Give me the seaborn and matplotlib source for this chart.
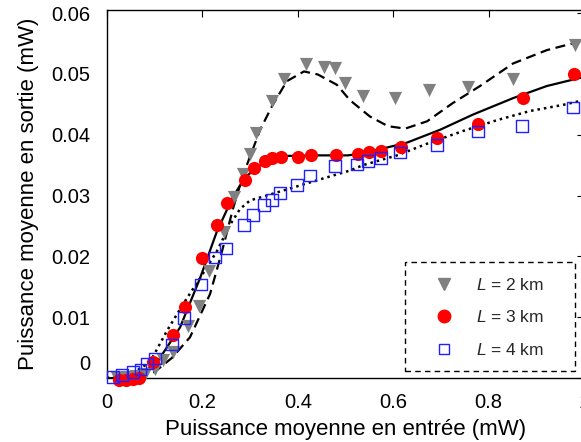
import matplotlib
matplotlib.use("Agg")
import matplotlib.pyplot as plt
import matplotlib.transforms as mtransforms
from matplotlib.lines import Line2D
from matplotlib.patches import Rectangle
import seaborn as sns

# ---- measured points ----
x_2km = [0.02, 0.04, 0.06, 0.08, 0.10, 0.117, 0.138, 0.17, 0.193, 0.214, 0.245, 0.266,
         0.285, 0.30, 0.312, 0.346, 0.371, 0.417, 0.455, 0.478, 0.499, 0.537, 0.604,
         0.675, 0.757, 0.851, 0.981]
y_2km = [0.0000, 0.0002, 0.0003, 0.0007, 0.0015, 0.0029, 0.0042, 0.0085, 0.0119, 0.0176,
         0.0240, 0.0298, 0.0335, 0.0368, 0.0403, 0.0455, 0.0491, 0.0517, 0.0512, 0.0509,
         0.0485, 0.0463, 0.0460, 0.0473, 0.0478, 0.0491, 0.0548]

x_3km = [0.025, 0.04, 0.055, 0.067, 0.097, 0.138, 0.164, 0.199, 0.23, 0.251, 0.289,
         0.308, 0.331, 0.346, 0.365, 0.400, 0.428, 0.48, 0.526, 0.549, 0.574, 0.616,
         0.692, 0.778, 0.872, 0.979]
y_3km = [-0.0004, -0.0004, -0.0002, 0.0000, 0.0026, 0.0070, 0.0117, 0.0197, 0.0252,
         0.0287, 0.0325, 0.0346, 0.0357, 0.0361, 0.0363, 0.0364, 0.0366, 0.0366, 0.0368,
         0.0371, 0.0374, 0.0379, 0.0395, 0.0417, 0.0460, 0.0499]

x_4km = [0.013, 0.031, 0.055, 0.07, 0.084, 0.10, 0.136, 0.161, 0.197, 0.226, 0.249,
         0.287, 0.306, 0.329, 0.346, 0.363, 0.398, 0.426, 0.478, 0.524, 0.547, 0.574,
         0.614, 0.692, 0.778, 0.87, 0.977]
y_4km = [0.0002, 0.0005, 0.0010, 0.0014, 0.0024, 0.0032, 0.0055, 0.0099, 0.0154, 0.0198,
         0.0213, 0.0252, 0.0268, 0.0284, 0.0293, 0.0304, 0.0317, 0.0333, 0.0349, 0.0351,
         0.0357, 0.0362, 0.0371, 0.0383, 0.0405, 0.0414, 0.0445]

# ---- fitted curves ----
fx_2km = [0.0, 0.05, 0.10, 0.136, 0.174, 0.216, 0.241, 0.264, 0.285, 0.321, 0.346, 0.377,
          0.413, 0.442, 0.482, 0.509, 0.551, 0.589, 0.625, 0.671, 0.725, 0.782, 0.851,
          0.922, 1.0]
fy_2km = [-0.0002, 0.0001, 0.0010, 0.0033, 0.0067, 0.0138, 0.0208, 0.0278, 0.0333,
          0.0408, 0.0447, 0.0488, 0.0504, 0.0499, 0.0482, 0.0457, 0.0430, 0.0414, 0.0410,
          0.0422, 0.0452, 0.0480, 0.0517, 0.0539, 0.0555]

fx_3km = [0.0, 0.05, 0.10, 0.153, 0.195, 0.23, 0.264, 0.290, 0.314, 0.340, 0.369, 0.44,
          0.505, 0.524, 0.572, 0.629, 0.698, 0.767, 0.851, 0.922, 1.0]
fy_3km = [-0.0001, 0.0003, 0.0020, 0.0083, 0.0164, 0.0240, 0.0298, 0.0330, 0.0346,
          0.0358, 0.0365, 0.0366, 0.0366, 0.0368, 0.0376, 0.0387, 0.0408, 0.0433, 0.0460,
          0.0480, 0.0495]

fx_4km = [0.0, 0.05, 0.09, 0.126, 0.16, 0.195, 0.23, 0.258, 0.279, 0.30, 0.335, 0.377,
          0.44, 0.509, 0.537, 0.608, 0.677, 0.746, 0.818, 0.887, 0.956, 1.0]
fy_4km = [0.0000, 0.0006, 0.0026, 0.0078, 0.0122, 0.0164, 0.0208, 0.0252, 0.0278,
          0.0292, 0.0300, 0.0310, 0.0325, 0.0341, 0.0350, 0.0366, 0.0387, 0.0406, 0.0424,
          0.0439, 0.0449, 0.0457]

x_ticks = [0, 0.2, 0.4, 0.6, 0.8, 1.0]
x_tick_labels = ["0", "0.2", "0.4", "0.6", "0.8", "1"]
y_ticks = [0, 0.01, 0.02, 0.03, 0.04, 0.05, 0.06]
y_tick_labels = ["0", "0.01", "0.02", "0.03", "0.04", "0.05", "0.06"]
legend_labels = ["$L$ = 2 km", "$L$ = 3 km", "$L$ = 4 km"]

sns.set_theme(style="white")
plt.rcParams["font.family"] = ["Liberation Sans", "DejaVu Sans"]
plt.rcParams["mathtext.fontset"] = "custom"
plt.rcParams["mathtext.it"] = "Liberation Sans:italic"
plt.rcParams["mathtext.rm"] = "Liberation Sans"

fig = plt.figure(figsize=(5.81, 4.42), dpi=100)
ax = fig.add_axes([107 / 581, 1 - 378 / 442, 477 / 581, 368 / 442])

# fit lines
sns.lineplot(x=fx_2km, y=fy_2km, ax=ax, color="black", lw=1.6, linestyle=(0, (4.5, 2.5)),
             sort=False, estimator=None)
sns.lineplot(x=fx_3km, y=fy_3km, ax=ax, color="black", lw=1.6, sort=False, estimator=None)
sns.lineplot(x=fx_4km, y=fy_4km, ax=ax, color="black", lw=1.8, linestyle=(0, (1, 1.6)),
             sort=False, estimator=None)

# measurement markers
sns.scatterplot(x=x_2km, y=y_2km, ax=ax, marker="v", s=90, color="#808080",
                edgecolor="#808080", linewidth=0, zorder=3, clip_on=False)
sns.scatterplot(x=x_3km, y=y_3km, ax=ax, marker="o", s=90, color="#ff0000",
                edgecolor="#ff0000", linewidth=0, zorder=4, clip_on=False)
sns.scatterplot(x=x_4km, y=y_4km, ax=ax, marker="s", s=70, facecolor="none",
                edgecolor="#2020ff", linewidth=1.0, zorder=5, clip_on=False)

ax.set_xlim(0, 1.0)
ax.set_ylim(0, 0.0605)
ax.set_xticks(x_ticks)
ax.set_xticklabels(x_tick_labels)
ax.set_yticks(y_ticks)
ax.set_yticklabels(y_tick_labels)
ax.tick_params(axis="both", direction="in", length=5, width=0.8, labelsize=14.5,
               top=True, right=True, colors="black")
ax.tick_params(axis="y", pad=12)
ax.tick_params(axis="x", pad=11)
for sp in ax.spines.values():
    sp.set_color("black")
    sp.set_linewidth(1.0)

# shift the "0" y label up like the reference
lbl0 = ax.get_yticklabels()[0]
lbl0.set_transform(lbl0.get_transform() + mtransforms.ScaledTranslation(0, 11 / 72, fig.dpi_scale_trans))

ax.set_xlabel("Puissance moyenne en entrée (mW)", fontsize=16, labelpad=5, color="black")
ax.set_ylabel("Puissance moyenne en sortie (mW)", fontsize=16, labelpad=9, color="black")

# legend frame (dashed) drawn as a rectangle in axes coordinates
ax.add_patch(Rectangle((298 / 477, 7 / 368), 170 / 477, 109 / 368, transform=ax.transAxes,
                       facecolor="white", edgecolor="black", linewidth=1.0,
                       linestyle=(0, (4, 3)), zorder=6))

handles = [
    Line2D([], [], marker="v", color="#808080", linestyle="none", markersize=9),
    Line2D([], [], marker="o", color="#ff0000", linestyle="none", markersize=9),
    Line2D([], [], marker="s", markerfacecolor="none", markeredgecolor="#2020ff",
           linestyle="none", markersize=7, markeredgewidth=1.0),
]
leg = ax.legend(handles, legend_labels, loc="upper left",
                bbox_to_anchor=(318 / 477, 101 / 368), fontsize=12.5, frameon=False,
                borderpad=0, labelspacing=0.95, handletextpad=0.75, handlelength=2.2,
                borderaxespad=0)
leg.set_zorder(7)

fig.savefig("out.png", dpi=100)
